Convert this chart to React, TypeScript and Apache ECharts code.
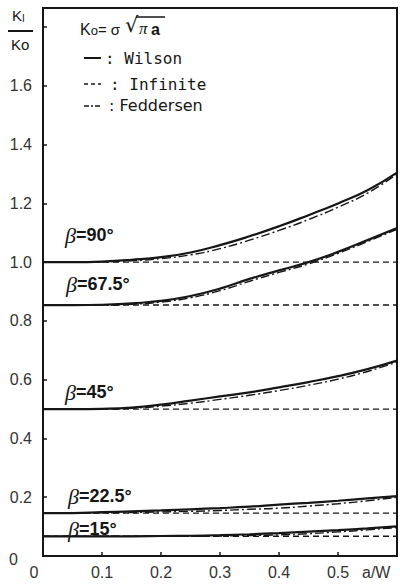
import React, { useEffect, useRef } from "react";
import * as echarts from "echarts";

const xs = [0, 0.05, 0.1, 0.15, 0.2, 0.25, 0.3, 0.35, 0.4, 0.45, 0.5, 0.55, 0.6];
const betaLabels = ["90°", "67.5°", "45°", "22.5°", "15°"];
const infiniteValues = [1.0, 0.854, 0.5, 0.146, 0.067];
const wilson90 = [1.0, 1.0, 1.002, 1.008, 1.017, 1.033, 1.058, 1.088, 1.122, 1.16, 1.2, 1.245, 1.305];
const fed90 = [1.0, 1.0, 1.001, 1.005, 1.012, 1.025, 1.046, 1.075, 1.108, 1.145, 1.187, 1.235, 1.3];
const wilson675 = [0.854, 0.854, 0.855, 0.86, 0.868, 0.885, 0.91, 0.943, 0.972, 1.0, 1.035, 1.075, 1.116];
const fed675 = [0.854, 0.854, 0.854, 0.857, 0.864, 0.879, 0.903, 0.935, 0.965, 0.994, 1.03, 1.07, 1.112];
const wilson45 = [0.5, 0.5, 0.501, 0.505, 0.515, 0.529, 0.543, 0.557, 0.574, 0.592, 0.612, 0.636, 0.665];
const fed45 = [0.5, 0.5, 0.5, 0.503, 0.51, 0.52, 0.533, 0.547, 0.563, 0.581, 0.602, 0.628, 0.66];
const wilson225 = [0.146, 0.146, 0.149, 0.152, 0.155, 0.159, 0.163, 0.168, 0.175, 0.181, 0.188, 0.196, 0.204];
const fed225 = [0.146, 0.146, 0.147, 0.148, 0.15, 0.152, 0.155, 0.159, 0.163, 0.17, 0.178, 0.188, 0.2];
const wilson15 = [0.067, 0.067, 0.067, 0.067, 0.068, 0.069, 0.071, 0.074, 0.078, 0.083, 0.088, 0.094, 0.101];
const fed15 = [0.067, 0.067, 0.067, 0.067, 0.067, 0.067, 0.068, 0.07, 0.072, 0.076, 0.082, 0.089, 0.097];

const wilsonAll = [wilson90, wilson675, wilson45, wilson225, wilson15];
const fedAll = [fed90, fed675, fed45, fed225, fed15];

const INK = "#161616";
const FONT = "'Liberation Sans', Arial, sans-serif";
const DASHED = [6, 4];
const DASHDOT = [9, 3, 2, 3];

export default function App() {
  const ref = useRef<HTMLDivElement>(null);
  useEffect(() => {
    if (!ref.current) return;
    const chart = echarts.init(ref.current, null, { renderer: "svg" });
    const pairs = (vals: number[]) => xs.map((x, i) => [x, vals[i]]);
    const series: any[] = [];
    infiniteValues.forEach((v, k) => {
      series.push({
        name: "Infinite " + betaLabels[k],
        type: "line",
        data: xs.map((x) => [x, v]),
        showSymbol: false,
        lineStyle: { color: INK, width: 1.4, type: DASHED },
        z: 2,
      });
    });
    fedAll.forEach((vals, k) => {
      series.push({
        name: "Feddersen " + betaLabels[k],
        type: "line",
        data: pairs(vals),
        smooth: true,
        showSymbol: false,
        lineStyle: { color: INK, width: 1.4, type: DASHDOT },
        z: 3,
      });
    });
    wilsonAll.forEach((vals, k) => {
      series.push({
        name: "Wilson " + betaLabels[k],
        type: "line",
        data: pairs(vals),
        smooth: true,
        showSymbol: false,
        lineStyle: { color: INK, width: 2.2 },
        z: 4,
      });
    });

    const betaPos = [
      [65, 236],
      [66, 285],
      [65, 393],
      [68, 497],
      [68, 530],
    ];
    const betaTexts = betaLabels.map((lab, k) => ({
      type: "text",
      left: betaPos[k][0],
      top: betaPos[k][1] - 12,
      style: {
        text: "{b|β}{t|=" + lab + "}",
        rich: {
          b: { fontFamily: "'Liberation Serif', serif", fontStyle: "italic", fontSize: 22, fill: INK },
          t: { fontFamily: FONT, fontWeight: "bold", fontSize: 18, fill: INK },
        },
      },
    }));

    chart.setOption({
      animation: false,
      backgroundColor: "#fff",
      grid: {
        left: 43,
        right: 3,
        top: 8,
        bottom: 30,
        show: true,
        borderColor: INK,
        borderWidth: 2,
        containLabel: false,
      },
      xAxis: {
        type: "value",
        min: 0,
        max: 0.6,
        interval: 0.1,
        splitLine: { show: false },
        axisLine: { lineStyle: { color: INK, width: 2 } },
        axisTick: { inside: true, length: 4, lineStyle: { color: INK, width: 1.5 } },
        axisLabel: {
          color: "#333",
          fontFamily: FONT,
          fontSize: 16,
          margin: 8,
          showMaxLabel: false,
          formatter: (v: number) => {
            if (v === 0) return "{z|0}";
            if (Math.abs(v - 0.6) < 1e-6) return "";
            return v.toFixed(1);
          },
          rich: { z: { padding: [0, 18, 0, 0], fontSize: 16, fontFamily: FONT, color: "#333" } },
        },
      },
      yAxis: {
        type: "value",
        min: 0,
        max: 1.865,
        interval: 0.2,
        splitLine: { show: false },
        axisLine: { lineStyle: { color: INK, width: 2 } },
        axisTick: { inside: true, length: 4, lineStyle: { color: INK, width: 1.5 } },
        axisLabel: {
          color: "#333",
          fontFamily: FONT,
          fontSize: 16,
          margin: 11,
          showMaxLabel: false,
          formatter: (v: number) => {
            if (v === 0) return "{z|0}";
            if (v > 1.7) return "";
            return v.toFixed(1);
          },
          rich: { z: { padding: [6, 14, 0, 0], fontSize: 16, fontFamily: FONT, color: "#333" } },
        },
      },
      graphic: [
        {
          type: "text",
          left: 12,
          top: 8,
          style: {
            text: "{k|K}{s|I}",
            rich: {
              k: { fontFamily: FONT, fontSize: 15, fill: INK, verticalAlign: "bottom" },
              s: { fontFamily: FONT, fontSize: 10, fill: INK, verticalAlign: "bottom" },
            },
          },
        },
        { type: "line", shape: { x1: 8, y1: 31, x2: 33, y2: 31 }, style: { stroke: INK, lineWidth: 2 } },
        { type: "text", left: 11, top: 37, style: { text: "Ko", fontFamily: FONT, fontSize: 15, fill: INK } },
        { type: "text", left: 362, top: 564, style: { text: "a/W", fontFamily: FONT, fontSize: 16, fill: "#333" } },
        {
          type: "text",
          left: 80,
          top: 21,
          style: {
            text: "{k|K}{o|o}{e|= σ}",
            rich: {
              k: { fontFamily: FONT, fontSize: 16, fill: INK, verticalAlign: "bottom" },
              o: { fontFamily: FONT, fontSize: 13, fill: INK, verticalAlign: "bottom" },
              e: { fontFamily: FONT, fontSize: 15, fill: INK, verticalAlign: "bottom" },
            },
          },
        },
        { type: "text", left: 125, top: 14, style: { text: "√", fontFamily: "'DejaVu Sans', sans-serif", fontSize: 21, fill: INK } },
        { type: "line", shape: { x1: 136, y1: 17, x2: 165, y2: 17 }, style: { stroke: INK, lineWidth: 1.5 } },
        { type: "text", left: 139, top: 20, style: { text: "π", fontFamily: "'Liberation Serif', serif", fontStyle: "italic", fontSize: 17, fill: INK } },
        { type: "text", left: 151, top: 21, style: { text: "a", fontFamily: FONT, fontWeight: "bold", fontSize: 16, fill: INK } },
        { type: "line", shape: { x1: 84, y1: 58, x2: 101, y2: 58 }, style: { stroke: INK, lineWidth: 2 } },
        { type: "line", shape: { x1: 84, y1: 84, x2: 101, y2: 84 }, style: { stroke: INK, lineWidth: 1.4, lineDash: [4, 3] } },
        { type: "line", shape: { x1: 84, y1: 106, x2: 101, y2: 106 }, style: { stroke: INK, lineWidth: 1.4, lineDash: [5, 2, 2, 2] } },
        { type: "text", left: 105, top: 50, style: { text: ": Wilson", fontFamily: "'DejaVu Sans Mono', monospace", fontSize: 16, fill: INK } },
        { type: "text", left: 110, top: 76, style: { text: ": Infinite", fontFamily: "'DejaVu Sans Mono', monospace", fontSize: 16, fill: INK } },
        { type: "text", left: 109, top: 97, style: { text: ": Feddersen", fontFamily: "'DejaVu Sans', sans-serif", fontSize: 16, fill: INK } },
        ...betaTexts,
      ],
      series,
    });
    return () => chart.dispose();
  }, []);
  return <div ref={ref} style={{ width: 400, height: 586, position: "absolute", left: 0, top: 0 }} />;
}
